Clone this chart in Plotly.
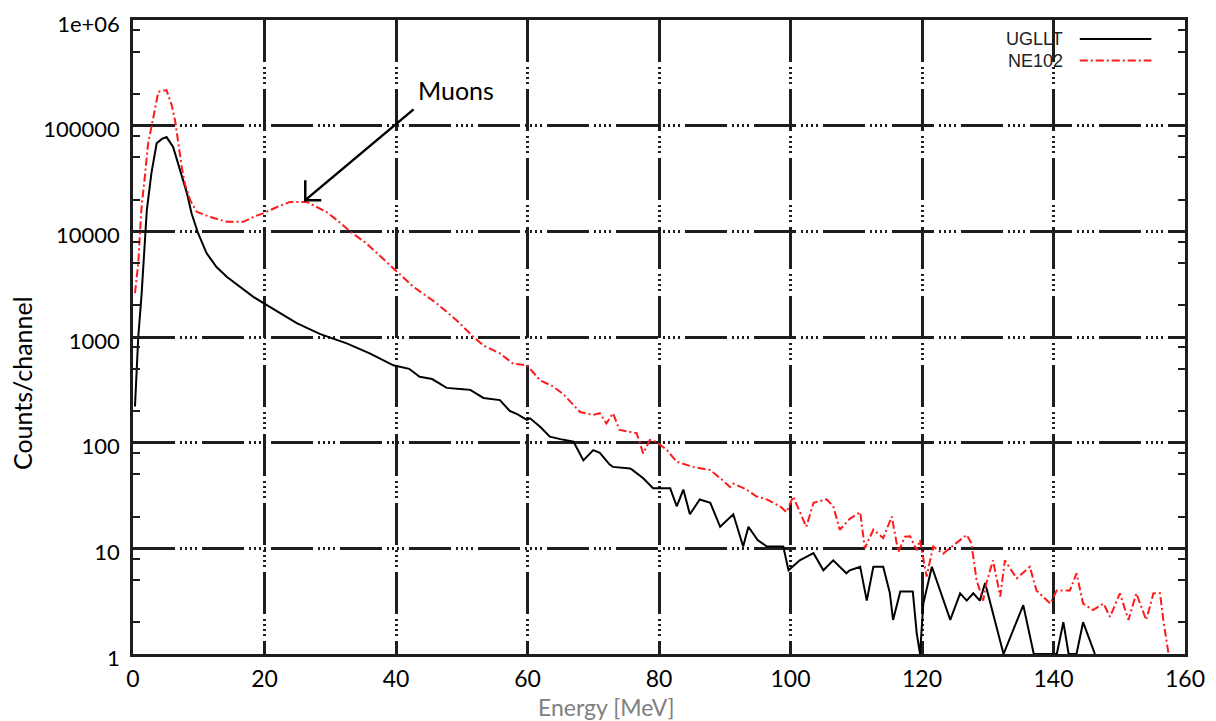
import plotly.graph_objects as go

# ---------------- data ----------------
ugllt_energy = [0.3, 0.8, 1.3, 1.6, 2.1, 2.8, 3.6, 4.4, 5.1, 6.1, 7.2, 8.2, 8.9, 9.9, 11.2, 12.7,
                14.3, 16.3, 18.3, 19.8, 22.4, 24.9, 28.4, 32.5, 36, 39.6, 42, 43.6, 45.5, 47.7,
                50.2, 51.3, 53.3, 55.8, 57.3, 58.5, 59.9, 60.4, 62, 63.4, 65, 67, 68.5, 70, 71,
                72.5, 73, 75.6, 76, 77.6, 79.1, 80.5, 81.7, 82.7, 83.7, 84.7, 86.2, 87.8, 89.3,
                91.3, 92.8, 93.6, 95, 96.4, 98.9, 99.7, 101.4, 103.5, 105, 106.5, 108.5, 109,
                110.6, 111.6, 112.6, 114.1, 115.1, 115.6, 116.7, 118.6, 119.2, 119.7, 120.2,
                121.5, 123, 124.3, 125.8, 126.8, 127.8, 128.8, 129.6, 130.3, 132.4, 135.4, 137,
                140.5, 141.5, 142.3, 143.5, 144.5, 146.3]
ugllt_counts = [220, 1000, 2500, 4600, 15800, 35500, 68000, 75000, 78000, 63000, 38000, 23000,
                14800, 9600, 6200, 4600, 3700, 3000, 2400, 2100, 1670, 1350, 1070, 870, 700, 540,
                500, 420, 400, 330, 320, 316, 265, 253, 200, 185, 164, 170, 140, 114, 108, 102,
                68, 85, 80, 62, 59, 57, 55, 46, 37, 37, 37, 25, 36, 21, 29, 27, 16, 21, 10.4, 16,
                12, 10.4, 10.4, 6.2, 7.7, 9, 6.2, 7.7, 5.8, 6.2, 6.7, 3.2, 6.7, 6.7, 3.8, 2.1,
                3.9, 3.9, 1.57, 1.0, 3, 6.7, 3.5, 2.1, 3.75, 3.2, 3.75, 3.2, 4.7, 3.2, 1.0, 2.9,
                1.0, 1.0, 2.0, 1.0, 1.0, 2.0, 1.0]

ne102_energy = [0.3, 0.8, 1.06, 1.3, 1.8, 2.3, 3.1, 3.85, 5.1, 5.9, 6.4, 6.9, 7.4, 7.9, 8.7, 9.7,
                11.7, 14.25, 16.8, 18.3, 19.8, 21.9, 23.9, 26.4, 28.4, 29.4, 31, 33, 35.5, 39.6,
                42.6, 46.2, 49.2, 51.8, 53.3, 55.8, 57.8, 59.9, 61.9, 63.9, 65.4, 68, 70, 71, 72,
                73, 74, 76.6, 77.6, 78.6, 79.6, 81.2, 82.7, 85.2, 87.8, 89.7, 90.8, 91.3, 93.3,
                94.8, 96.4, 98.4, 99.4, 100.4, 102.4, 103.5, 105.5, 106.5, 107.5, 109, 110.6,
                111.3, 112.6, 114.1, 115.4, 116.4, 117.4, 118.2, 119.2, 119.7, 120.7, 121.7,
                123.2, 125.2, 126.8, 127.5, 128.3, 129.3, 129.8, 130.8, 131.9, 132.6, 134.4,
                136.4, 137.4, 139.5, 140.5, 142.5, 143.5, 144.5, 146, 147.6, 148.6, 150.1, 151.4,
                152.6, 154.1, 155.2, 156.2, 156.7, 157.5]
ne102_counts = [2600, 5000, 9600, 17000, 33000, 68000, 120000, 209000, 217000, 155000, 112000,
                68000, 41000, 28000, 19700, 15300, 13700, 12300, 12300, 13700, 14800, 17000,
                19000, 19000, 16500, 15300, 12800, 10000, 7700, 4500, 3000, 2080, 1440, 1000,
                830, 700, 560, 540, 390, 340, 290, 195, 183, 190, 152, 190, 132, 123, 79, 106,
                102, 85, 66, 59, 55, 44, 38, 41, 36, 31, 29, 25, 22, 31, 16, 27, 29, 25, 15, 19,
                22, 10, 15, 12.5, 20, 9.2, 12.9, 13, 9.6, 12, 5.4, 10.4, 8.9, 11.2, 13.4, 11.2,
                5, 3.2, 4.7, 7.7, 3.5, 7.7, 5.2, 6.7, 4.0, 3.0, 4, 4, 5.8, 3.0, 2.6, 3, 2.25,
                3.75, 2.1, 3.75, 2.1, 3.75, 3.75, 2.1, 1.0]

series_names = ["UGLLT", "NE102"]
x_ticks = [0, 20, 40, 60, 80, 100, 120, 140, 160]
y_ticks = [1, 10, 100, 1000, 10000, 100000, 1000000]
y_ticktext = ["1", "10", "100", "1000", "10000", "100000", "1e+06"]
y_minor = [m * 10 ** d for d in range(6) for m in (2, 5, 8)]

# ---------------- figure ----------------
FONT = "Lato"
GRID = "#1e1e1e"
GRIDDASH = "42px,5px,2px,3px,2px,3px,2px,3px,2px,5px"
RED_DASH = "8px,3px,2px,3px"

fig = go.Figure()
fig.add_trace(go.Scatter(x=ugllt_energy, y=ugllt_counts, mode="lines", name=series_names[0],
                         line=dict(color="black", width=2), showlegend=False))
fig.add_trace(go.Scatter(x=ne102_energy, y=ne102_counts, mode="lines", name=series_names[1],
                         line=dict(color="#ff1a1a", width=2, dash=RED_DASH), showlegend=False))

fig.update_xaxes(range=[0, 160], tickvals=x_ticks, showgrid=True, gridcolor=GRID, gridwidth=2.5,
                 griddash=GRIDDASH, showline=True, linecolor=GRID, linewidth=2.5, mirror="ticks",
                 ticks="inside", ticklen=6, tickwidth=2, tickcolor=GRID, zeroline=False,
                 tickfont=dict(family=FONT, size=23, color="black"), automargin=False,
                 ticklabelstandoff=3, ticklabeloverflow="allow")
fig.update_yaxes(type="log", range=[0, 6], tickvals=y_ticks, ticktext=y_ticktext, showgrid=True,
                 gridcolor=GRID, gridwidth=2.5, griddash=GRIDDASH, showline=True, linecolor=GRID,
                 linewidth=2.5, mirror="ticks", ticks="inside", ticklen=6, tickwidth=2,
                 tickcolor=GRID, zeroline=False,
                 minor=dict(tickvals=y_minor, ticks="inside", ticklen=7, tickwidth=2,
                            tickcolor=GRID, showgrid=False),
                 tickfont=dict(family=FONT, size=22, color="black"), automargin=False,
                 ticklabelstandoff=6, ticklabeloverflow="allow", ticklabelshift=4)

annotations = [
    # axis titles
    dict(text="Energy [MeV]", xref="paper", yref="paper", x=0.4496, y=-0.0835, showarrow=False,
         font=dict(family=FONT, size=23, color="#808080"), xanchor="center", yanchor="middle"),
    dict(text="Counts/channel", xref="paper", yref="paper", x=-0.1055, y=0.4274, showarrow=False,
         textangle=-90, font=dict(family=FONT, size=25, color="black"),
         xanchor="center", yanchor="middle"),
    # Muons label and arrow
    dict(text="Muons", xref="x", yref="y", x=49.1, y=5.336, showarrow=False,
         font=dict(family=FONT, size=25, color="black"), xanchor="center", yanchor="middle"),
    dict(text="", xref="x", yref="y", x=26.2, y=4.295, axref="x", ayref="y", ax=42.9, ay=5.166,
         showarrow=True, arrowhead=0, arrowwidth=2.5, arrowcolor="black"),
    # legend texts
    dict(text="UGLLT", xref="paper", yref="paper", x=0.886, y=0.970, showarrow=False,
         xanchor="right", yanchor="middle", font=dict(family="Liberation Sans", size=18, color="#222")),
    dict(text="NE102", xref="paper", yref="paper", x=0.886, y=0.936, showarrow=False,
         xanchor="right", yanchor="middle", font=dict(family="Liberation Sans", size=18, color="#222")),
]

shapes = [
    # open arrow head of the Muons arrow (pixel-sized, anchored at the head)
    dict(type="path", xref="x", yref="y", xsizemode="pixel", ysizemode="pixel",
         xanchor=26.2, yanchor=10 ** 4.295, path="M 16,0 L 0,0 L 0,20",
         line=dict(color="black", width=2.5)),
    # legend samples
    dict(type="line", xref="paper", yref="paper", x0=0.900, x1=0.968, y0=0.970, y1=0.970,
         line=dict(color="black", width=2)),
    dict(type="line", xref="paper", yref="paper", x0=0.900, x1=0.968, y0=0.936, y1=0.936,
         line=dict(color="#ff1a1a", width=2, dash=RED_DASH)),
]

# the page body adds an ~8px offset, so the figure is made 8px smaller and the
# margins shifted so that the plot area lands where it is in the reference
fig.update_layout(width=1208, height=713, margin=dict(l=125, r=31, t=12, b=67),
                  plot_bgcolor="white", paper_bgcolor="white", annotations=annotations,
                  shapes=shapes, font=dict(family=FONT), showlegend=False)

fig.write_html("out.html")
